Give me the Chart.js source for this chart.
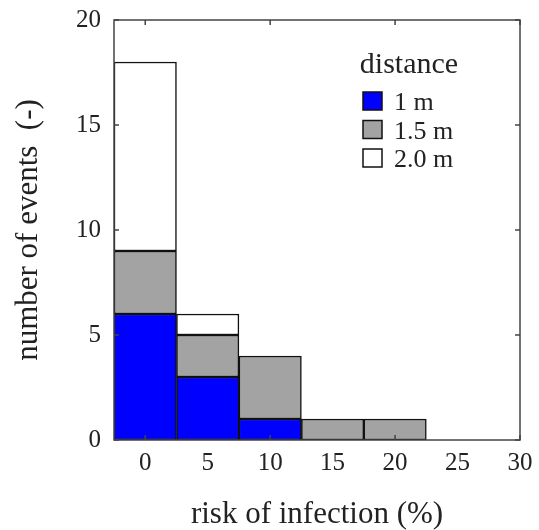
<!DOCTYPE html>
<html>
<head>
<meta charset="utf-8">
<script src="https://cdn.jsdelivr.net/npm/chart.js@4"></script>
<style>
html, body { margin: 0; padding: 0; background: #fff; }
</style>
</head>
<body>
<canvas id="chart" width="539" height="530"></canvas>
<script>
// histogram bins (centre of each 5 % wide bin)
const bins = [0, 5, 10, 15, 20];
const seriesNames = ["1 m", "1.5 m", "2.0 m"];
const events1m = [6, 3, 1, null, null];
const events15m = [3, 2, 3, 1, 1];
const events20m = [9, 1, null, null, null];
const xTicks = [0, 5, 10, 15, 20, 25, 30];
const xMarks = [0, 10, 20, 30];
const yTicks = [0, 5, 10, 15, 20];

const serif = "'Liberation Serif', 'DejaVu Serif', serif";
const textColor = "#222";

function toPoints(values) {
    return bins.map((b, i) => ({ x: b, y: values[i] }));
}

// box round the plot and the small inward tick marks
const framePlugin = {
    id: "frame",
    afterDatasetsDraw(chart) {
        const { ctx, chartArea: a, scales: { x, y } } = chart;
        ctx.save();
        ctx.strokeStyle = "#444";
        ctx.lineWidth = 1.5;
        ctx.strokeRect(a.left, a.top, a.right - a.left, a.bottom - a.top);
        ctx.beginPath();
        xMarks.forEach(v => {
            const px = x.getPixelForValue(v);
            ctx.moveTo(px, a.bottom); ctx.lineTo(px, a.bottom - 5);
            ctx.moveTo(px, a.top); ctx.lineTo(px, a.top + 5);
        });
        yTicks.forEach(v => {
            const py = y.getPixelForValue(v);
            ctx.moveTo(a.left, py); ctx.lineTo(a.left + 5, py);
            ctx.moveTo(a.right, py); ctx.lineTo(a.right - 5, py);
        });
        ctx.stroke();
        ctx.restore();
    }
};

// legend with a title, inside the plot, top right
const legendPlugin = {
    id: "insideLegend",
    afterDraw(chart) {
        const { ctx, chartArea: a } = chart;
        const boxX = a.right - 157;
        ctx.save();
        ctx.fillStyle = textColor;
        ctx.font = "30px " + serif;
        ctx.textAlign = "center";
        ctx.textBaseline = "alphabetic";
        ctx.fillText("distance", a.right - 111, a.top + 53);
        ctx.font = "26px " + serif;
        ctx.textAlign = "left";
        chart.data.datasets.forEach((ds, i) => {
            const top = a.top + 72 + i * 28.5;
            ctx.fillStyle = ds.backgroundColor;
            ctx.fillRect(boxX, top, 19, 18);
            ctx.strokeStyle = "#111";
            ctx.lineWidth = 1.5;
            ctx.strokeRect(boxX, top, 19, 18);
            ctx.fillStyle = textColor;
            ctx.fillText(ds.label, boxX + 31, top + 18);
        });
        ctx.restore();
    }
};

const colors = ["#0000ff", "#a3a3a3", "#ffffff"];

new Chart(document.getElementById("chart").getContext("2d"), {
    type: "bar",
    data: {
        datasets: [events1m, events15m, events20m].map((vals, i) => ({
            label: seriesNames[i],
            data: toPoints(vals),
            backgroundColor: colors[i],
            borderColor: "#111",
            borderWidth: 1.5,
            borderSkipped: false,
            barPercentage: 1,
            categoryPercentage: 1
        }))
    },
    options: {
        responsive: false,
        animation: false,
        layout: { padding: { top: 20, right: 19, left: 0, bottom: 0 } },
        plugins: {
            legend: { display: false },
            tooltip: { enabled: false }
        },
        scales: {
            x: {
                type: "linear",
                stacked: true,
                min: -2.5,
                max: 30,
                offset: false,
                grid: { display: false, drawTicks: false },
                border: { display: false },
                afterBuildTicks: s => { s.ticks = xTicks.map(v => ({ value: v })); },
                afterFit: s => {
                    s.height = 90;
                    s.paddingLeft = 0;
                    s.paddingRight = 0;
                },
                ticks: {
                    font: { family: serif, size: 25 },
                    color: textColor,
                    padding: 8,
                    maxRotation: 0,
                    autoSkip: false
                },
                title: {
                    display: true,
                    text: "risk of infection (%)",
                    font: { family: serif, size: 31, lineHeight: 1 },
                    color: textColor,
                    padding: 0
                }
            },
            y: {
                stacked: true,
                min: 0,
                max: 20,
                grid: { display: false, drawTicks: false },
                border: { display: false },
                afterBuildTicks: s => { s.ticks = yTicks.map(v => ({ value: v })); },
                afterFit: s => {
                    s.width = 114;
                    s.paddingTop = 0;
                    s.paddingBottom = 0;
                },
                ticks: {
                    font: { family: serif, size: 25 },
                    color: textColor,
                    padding: 13
                },
                title: {
                    display: true,
                    text: "number of events  (-)",
                    font: { family: serif, size: 31, lineHeight: 1.2 },
                    color: textColor,
                    padding: { top: 10, bottom: 0 }
                }
            }
        }
    },
    plugins: [framePlugin, legendPlugin]
});
</script>
</body>
</html>
